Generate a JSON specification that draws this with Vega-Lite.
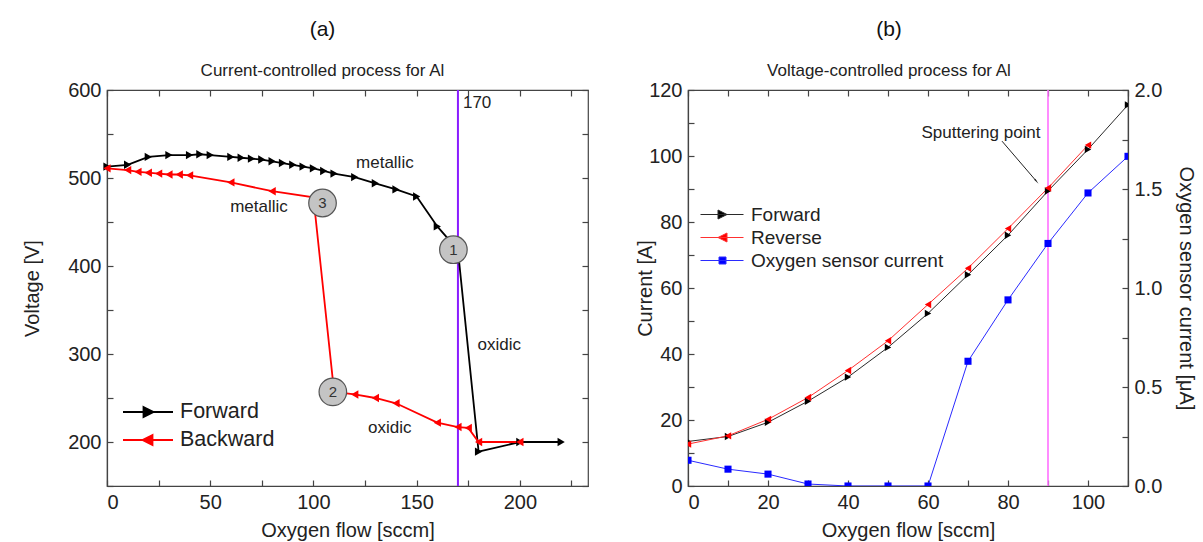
{
  "$schema": "https://vega.github.io/schema/vega-lite/v6.json",
  "background": "white",
  "padding": {"left": 22, "top": 18, "right": 0, "bottom": 0},
  "datasets": {
    "a": [
      {"series": "Forward", "flow": 0, "voltage": 513},
      {"series": "Forward", "flow": 10, "voltage": 515},
      {"series": "Forward", "flow": 20, "voltage": 524},
      {"series": "Forward", "flow": 30, "voltage": 526},
      {"series": "Forward", "flow": 40, "voltage": 526},
      {"series": "Forward", "flow": 45, "voltage": 527},
      {"series": "Forward", "flow": 50, "voltage": 526},
      {"series": "Forward", "flow": 60, "voltage": 524},
      {"series": "Forward", "flow": 65, "voltage": 523},
      {"series": "Forward", "flow": 70, "voltage": 522},
      {"series": "Forward", "flow": 75, "voltage": 521},
      {"series": "Forward", "flow": 80, "voltage": 519},
      {"series": "Forward", "flow": 85, "voltage": 517},
      {"series": "Forward", "flow": 90, "voltage": 515},
      {"series": "Forward", "flow": 95, "voltage": 513},
      {"series": "Forward", "flow": 100, "voltage": 511},
      {"series": "Forward", "flow": 105, "voltage": 508},
      {"series": "Forward", "flow": 110, "voltage": 505},
      {"series": "Forward", "flow": 120, "voltage": 501},
      {"series": "Forward", "flow": 130, "voltage": 494},
      {"series": "Forward", "flow": 140, "voltage": 487},
      {"series": "Forward", "flow": 150, "voltage": 479},
      {"series": "Forward", "flow": 160, "voltage": 445},
      {"series": "Forward", "flow": 170, "voltage": 418},
      {"series": "Forward", "flow": 180, "voltage": 189},
      {"series": "Forward", "flow": 200, "voltage": 200},
      {"series": "Forward", "flow": 220, "voltage": 200},
      {"series": "Backward", "flow": 200, "voltage": 200},
      {"series": "Backward", "flow": 180, "voltage": 200},
      {"series": "Backward", "flow": 175, "voltage": 216},
      {"series": "Backward", "flow": 170, "voltage": 217},
      {"series": "Backward", "flow": 160, "voltage": 222},
      {"series": "Backward", "flow": 140, "voltage": 244},
      {"series": "Backward", "flow": 130, "voltage": 250},
      {"series": "Backward", "flow": 120, "voltage": 254},
      {"series": "Backward", "flow": 110, "voltage": 257},
      {"series": "Backward", "flow": 100, "voltage": 478},
      {"series": "Backward", "flow": 80, "voltage": 485},
      {"series": "Backward", "flow": 60, "voltage": 495},
      {"series": "Backward", "flow": 40, "voltage": 503},
      {"series": "Backward", "flow": 35, "voltage": 504},
      {"series": "Backward", "flow": 30, "voltage": 504},
      {"series": "Backward", "flow": 25, "voltage": 505},
      {"series": "Backward", "flow": 20, "voltage": 506},
      {"series": "Backward", "flow": 15, "voltage": 507},
      {"series": "Backward", "flow": 10, "voltage": 509},
      {"series": "Backward", "flow": 0, "voltage": 511}
    ],
    "a_circ": [
      {"flow": 167.8, "voltage": 418.5, "num": "1"},
      {"flow": 109.4, "voltage": 257, "num": "2"},
      {"flow": 104.4, "voltage": 471.6, "num": "3"}
    ],
    "a_text": [
      {"flow": 134.6, "voltage": 517, "label": "metallic"},
      {"flow": 73.6, "voltage": 467, "label": "metallic"},
      {"flow": 190, "voltage": 310.6, "label": "oxidic"},
      {"flow": 137, "voltage": 216, "label": "oxidic"}
    ],
    "a_rule": [{"flow": 170, "voltage": 585, "label": "170"}],
    "b": [
      {"series": "Forward", "flow": 0, "current": 13.5},
      {"series": "Forward", "flow": 10, "current": 15},
      {"series": "Forward", "flow": 20, "current": 19.3},
      {"series": "Forward", "flow": 30, "current": 25.7},
      {"series": "Forward", "flow": 40, "current": 33},
      {"series": "Forward", "flow": 50, "current": 42},
      {"series": "Forward", "flow": 60, "current": 52.3},
      {"series": "Forward", "flow": 70, "current": 64},
      {"series": "Forward", "flow": 80, "current": 76},
      {"series": "Forward", "flow": 90, "current": 89.4},
      {"series": "Forward", "flow": 100, "current": 102},
      {"series": "Forward", "flow": 110, "current": 115.5},
      {"series": "Reverse", "flow": 0, "current": 12.7},
      {"series": "Reverse", "flow": 10, "current": 15.2},
      {"series": "Reverse", "flow": 20, "current": 20.2},
      {"series": "Reverse", "flow": 30, "current": 26.8},
      {"series": "Reverse", "flow": 40, "current": 35},
      {"series": "Reverse", "flow": 50, "current": 44},
      {"series": "Reverse", "flow": 60, "current": 55},
      {"series": "Reverse", "flow": 70, "current": 66},
      {"series": "Reverse", "flow": 80, "current": 78},
      {"series": "Reverse", "flow": 90, "current": 90.3},
      {"series": "Reverse", "flow": 100, "current": 103.3}
    ],
    "b_o2": [
      {"series": "Oxygen sensor current", "flow": 0, "sensor": 0.13},
      {"series": "Oxygen sensor current", "flow": 10, "sensor": 0.085},
      {"series": "Oxygen sensor current", "flow": 20, "sensor": 0.06},
      {"series": "Oxygen sensor current", "flow": 30, "sensor": 0.01},
      {"series": "Oxygen sensor current", "flow": 40, "sensor": 0},
      {"series": "Oxygen sensor current", "flow": 50, "sensor": 0},
      {"series": "Oxygen sensor current", "flow": 60, "sensor": 0},
      {"series": "Oxygen sensor current", "flow": 70, "sensor": 0.63},
      {"series": "Oxygen sensor current", "flow": 80, "sensor": 0.94},
      {"series": "Oxygen sensor current", "flow": 90, "sensor": 1.225},
      {"series": "Oxygen sensor current", "flow": 100, "sensor": 1.48},
      {"series": "Oxygen sensor current", "flow": 110, "sensor": 1.665}
    ],
    "b_rule": [{"flow": 90}],
    "b_arrow": [{"x1": 78.5, "y1": 104.5, "x2": 87, "y2": 92.5}],
    "b_text": [{"flow": 73.25, "current": 107, "label": "Sputtering point"}]
  },
  "hconcat": [
    {
      "title": {"text": "(a)", "subtitle": "Current-controlled process for Al", "dx": -25},
      "width": 481,
      "height": 396,
      "layer": [
        {
          "data": {"name": "a_rule"},
          "mark": {"type": "rule", "color": "#8a1cff", "strokeWidth": 2},
          "encoding": {
            "x": {"field": "flow", "type": "quantitative", "scale": {"domain": [0, 233], "nice": false},
                  "axis": {"orient": "top", "title": null, "labels": false, "domain": false, "values": [0,25,50,75,100,125,150,175,200,225]}}
          }
        },
        {
          "data": {"name": "a_rule"},
          "mark": {"type": "text", "align": "left", "dx": 5, "baseline": "middle", "fontSize": 17, "color": "#222"},
          "encoding": {
            "x": {"field": "flow", "type": "quantitative", "scale": {"domain": [0, 233], "nice": false}, "axis": null},
            "y": {"field": "voltage", "type": "quantitative", "scale": {"domain": [150, 600], "nice": false, "zero": false},
                  "axis": {"orient": "right", "title": null, "labels": false, "domain": false, "values": [150,200,250,300,350,400,450,500,550,600]}},
            "text": {"field": "label"}
          }
        },
        {
          "data": {"name": "a"},
          "mark": {"type": "line", "strokeWidth": 1.8},
          "encoding": {
            "x": {"field": "flow", "type": "quantitative", "scale": {"domain": [0, 233], "nice": false},
                  "axis": {"title": "Oxygen flow [sccm]", "values": [0,25,50,75,100,125,150,175,200,225], "labelExpr": "datum.value % 50 === 0 ? datum.label : ''"}},
            "y": {"field": "voltage", "type": "quantitative", "scale": {"domain": [150, 600], "nice": false, "zero": false},
                  "axis": {"title": "Voltage [V]", "titlePadding": 25, "values": [150,200,250,300,350,400,450,500,550,600], "labelExpr": "datum.value % 100 === 0 ? datum.label : ''"}},
            "color": {"field": "series", "type": "nominal", "scale": {"domain": ["Forward", "Backward"], "range": ["#000000", "#ff0000"]},
                      "legend": {"title": null, "orient": "none", "legendX": 15, "legendY": 311, "symbolSize": 400, "labelFontSize": 21.5, "labelOffset": 36, "rowPadding": 6, "padding": 0, "symbolStrokeWidth": 1.8, "labelColor": "#222", "labelLimit": 300,
                                 "encode": {"symbols": {"update": {
                                   "shape": {"signal": "datum.value === 'Forward' ? 'M-1,0H4M1.05,-0.5L2.05,0L1.05,0.5Z' : 'M-1,0H4M1.95,-0.5L0.95,0L1.95,0.5Z'"},
                                   "fill": {"signal": "datum.value === 'Forward' ? '#000000' : '#ff0000'"},
                                   "stroke": {"signal": "datum.value === 'Forward' ? '#000000' : '#ff0000'"},
                                   "opacity": {"value": 1}}}}}},
            "order": {"field": "flow", "type": "quantitative"}
          }
        },
        {
          "data": {"name": "a"},
          "transform": [{"filter": "datum.series === 'Forward'"}],
          "mark": {"type": "point", "shape": "triangle-right", "filled": true, "size": 70, "opacity": 1, "color": "#000000"},
          "encoding": {
            "x": {"field": "flow", "type": "quantitative", "scale": {"domain": [0, 233], "nice": false}, "axis": null},
            "y": {"field": "voltage", "type": "quantitative", "scale": {"domain": [150, 600], "nice": false, "zero": false}, "axis": null}
          }
        },
        {
          "data": {"name": "a"},
          "transform": [{"filter": "datum.series === 'Backward'"}],
          "mark": {"type": "point", "shape": "triangle-left", "filled": true, "size": 70, "opacity": 1, "color": "#ff0000"},
          "encoding": {
            "x": {"field": "flow", "type": "quantitative", "scale": {"domain": [0, 233], "nice": false}, "axis": null},
            "y": {"field": "voltage", "type": "quantitative", "scale": {"domain": [150, 600], "nice": false, "zero": false}, "axis": null}
          }
        },
        {
          "data": {"name": "a_circ"},
          "mark": {"type": "point", "shape": "circle", "filled": true, "size": 760, "fill": "#c4c4c4", "stroke": "#555555", "strokeWidth": 1.2, "opacity": 1},
          "encoding": {
            "x": {"field": "flow", "type": "quantitative", "scale": {"domain": [0, 233], "nice": false}, "axis": null},
            "y": {"field": "voltage", "type": "quantitative", "scale": {"domain": [150, 600], "nice": false, "zero": false}, "axis": null}
          }
        },
        {
          "data": {"name": "a_circ"},
          "mark": {"type": "text", "fontSize": 15, "color": "#333", "baseline": "middle", "align": "center"},
          "encoding": {
            "x": {"field": "flow", "type": "quantitative", "scale": {"domain": [0, 233], "nice": false}, "axis": null},
            "y": {"field": "voltage", "type": "quantitative", "scale": {"domain": [150, 600], "nice": false, "zero": false}, "axis": null},
            "text": {"field": "num"}
          }
        },
        {
          "data": {"name": "a_text"},
          "mark": {"type": "text", "fontSize": 17, "color": "#222", "baseline": "middle", "align": "center"},
          "encoding": {
            "x": {"field": "flow", "type": "quantitative", "scale": {"domain": [0, 233], "nice": false}, "axis": null},
            "y": {"field": "voltage", "type": "quantitative", "scale": {"domain": [150, 600], "nice": false, "zero": false}, "axis": null},
            "text": {"field": "label"}
          }
        }
      ],
      "resolve": {"axis": {"x": "independent", "y": "independent"}}
    },
    {
      "title": {"text": "(b)", "subtitle": "Voltage-controlled process for Al", "dx": -19},
      "width": 440,
      "height": 396,
      "layer": [
        {
          "data": {"name": "b_rule"},
          "mark": {"type": "rule", "color": "#ff70ff", "strokeWidth": 1.6},
          "encoding": {
            "x": {"field": "flow", "type": "quantitative", "scale": {"domain": [0, 110], "nice": false},
                  "axis": {"orient": "top", "title": null, "labels": false, "domain": false, "values": [0,10,20,30,40,50,60,70,80,90,100,110]}}
          }
        },
        {
          "data": {"name": "b"},
          "mark": {"type": "line", "strokeWidth": 1},
          "encoding": {
            "x": {"field": "flow", "type": "quantitative", "scale": {"domain": [0, 110], "nice": false},
                  "axis": {"title": "Oxygen flow [sccm]", "values": [0,10,20,30,40,50,60,70,80,90,100,110], "labelExpr": "datum.value % 20 === 0 ? datum.label : ''"}},
            "y": {"field": "current", "type": "quantitative", "scale": {"domain": [0, 120], "nice": false},
                  "axis": {"title": "Current [A]", "titlePadding": -7, "values": [0,10,20,30,40,50,60,70,80,90,100,110,120], "labelExpr": "datum.value % 20 === 0 ? datum.label : ''"}},
            "color": {"field": "series", "type": "nominal", "scale": {"domain": ["Forward", "Reverse", "Oxygen sensor current"], "range": ["#2a2a2a", "#ff3030", "#2a2aff"]},
                      "legend": {"title": null, "orient": "none", "legendX": 12, "legendY": 114, "symbolSize": 400, "labelFontSize": 19, "labelOffset": 30, "rowPadding": 2, "padding": 0, "symbolStrokeWidth": 1, "labelColor": "#222", "labelLimit": 300,
                                 "encode": {"symbols": {"update": {
                                   "shape": {"signal": "datum.value === 'Forward' ? 'M-1,0H3.3M0.75,-0.45L1.65,0L0.75,0.45Z' : (datum.value === 'Reverse' ? 'M-1,0H3.3M1.65,-0.45L0.75,0L1.65,0.45Z' : 'M-1,0H3.3M0.85,-0.35H1.55V0.35H0.85Z')"},
                                   "fill": {"signal": "datum.value === 'Forward' ? '#000000' : (datum.value === 'Reverse' ? '#ff0000' : '#0000ff')"},
                                   "stroke": {"signal": "datum.value === 'Forward' ? '#333333' : (datum.value === 'Reverse' ? '#ff3333' : '#3333ff')"},
                                   "opacity": {"value": 1}}}}}}
          }
        },
        {
          "data": {"name": "b"},
          "transform": [{"filter": "datum.series === 'Forward'"}],
          "mark": {"type": "point", "shape": "triangle-right", "filled": true, "size": 55, "opacity": 1, "clip": true, "color": "#000000"},
          "encoding": {
            "x": {"field": "flow", "type": "quantitative", "scale": {"domain": [0, 110], "nice": false}, "axis": null},
            "y": {"field": "current", "type": "quantitative", "scale": {"domain": [0, 120], "nice": false}, "axis": null}
          }
        },
        {
          "data": {"name": "b"},
          "transform": [{"filter": "datum.series === 'Reverse'"}],
          "mark": {"type": "point", "shape": "triangle-left", "filled": true, "size": 55, "opacity": 1, "clip": true, "color": "#ff0000"},
          "encoding": {
            "x": {"field": "flow", "type": "quantitative", "scale": {"domain": [0, 110], "nice": false}, "axis": null},
            "y": {"field": "current", "type": "quantitative", "scale": {"domain": [0, 120], "nice": false}, "axis": null}
          }
        },
        {
          "data": {"name": "b_arrow"},
          "mark": {"type": "rule", "color": "#222", "strokeWidth": 1},
          "encoding": {
            "x": {"field": "x1", "type": "quantitative", "scale": {"domain": [0, 110], "nice": false}, "axis": null},
            "y": {"field": "y1", "type": "quantitative", "scale": {"domain": [0, 120], "nice": false}, "axis": null},
            "x2": {"field": "x2"},
            "y2": {"field": "y2"}
          }
        },
        {
          "data": {"name": "b_arrow"},
          "mark": {"type": "point", "shape": "wedge", "filled": true, "size": 45, "angle": 139, "color": "#222", "opacity": 1},
          "encoding": {
            "x": {"field": "x2", "type": "quantitative", "scale": {"domain": [0, 110], "nice": false}, "axis": null},
            "y": {"field": "y2", "type": "quantitative", "scale": {"domain": [0, 120], "nice": false}, "axis": null}
          }
        },
        {
          "data": {"name": "b_text"},
          "mark": {"type": "text", "fontSize": 17, "color": "#222", "baseline": "middle", "align": "center"},
          "encoding": {
            "x": {"field": "flow", "type": "quantitative", "scale": {"domain": [0, 110], "nice": false}, "axis": null},
            "y": {"field": "current", "type": "quantitative", "scale": {"domain": [0, 120], "nice": false}, "axis": null},
            "text": {"field": "label"}
          }
        },
        {
          "data": {"name": "b_o2"},
          "mark": {"type": "line", "strokeWidth": 1, "clip": true, "color": "#2a2aff"},
          "encoding": {
            "x": {"field": "flow", "type": "quantitative", "scale": {"domain": [0, 110], "nice": false}, "axis": null},
            "y": {"field": "sensor", "type": "quantitative", "scale": {"domain": [0, 2], "nice": false},
                  "axis": {"orient": "right", "title": "Oxygen sensor current [μA]", "titlePadding": 14, "values": [0,0.25,0.5,0.75,1,1.25,1.5,1.75,2], "format": ".1f", "labelExpr": "datum.value % 0.5 === 0 ? datum.label : ''"}}
          }
        },
        {
          "data": {"name": "b_o2"},
          "mark": {"type": "point", "shape": "square", "filled": true, "size": 50, "opacity": 1, "clip": true, "color": "#0000ff"},
          "encoding": {
            "x": {"field": "flow", "type": "quantitative", "scale": {"domain": [0, 110], "nice": false}, "axis": null},
            "y": {"field": "sensor", "type": "quantitative", "scale": {"domain": [0, 2], "nice": false}, "axis": null}
          }
        }
      ],
      "resolve": {"scale": {"y": "independent"}, "axis": {"x": "independent"}}
    }
  ],
  "spacing": 45,
  "resolve": {"scale": {"color": "independent"}, "legend": {"color": "independent"}},
  "config": {
    "font": "Liberation Sans",
    "view": {"stroke": "#444444", "strokeWidth": 1.2},
    "axis": {
      "grid": false,
      "domainColor": "#444444",
      "domainWidth": 1.2,
      "tickColor": "#444444",
      "tickWidth": 1.2,
      "tickSize": -6,
      "labelPadding": 12,
      "labelFont": "Liberation Sans",
      "labelFontSize": 20,
      "labelColor": "#222222",
      "titleFont": "Liberation Sans",
      "titleFontSize": 20,
      "titleFontWeight": "normal",
      "titleColor": "#222222",
      "titlePadding": 8
    },
    "legend": {"labelFont": "Liberation Sans"},
    "title": {
      "font": "Liberation Sans",
      "fontSize": 21,
      "fontWeight": "normal",
      "color": "#111111",
      "subtitleFont": "Liberation Sans",
      "subtitleFontSize": 17,
      "subtitleColor": "#222222",
      "subtitlePadding": 23,
      "offset": 1,
      "anchor": "middle"
    },
    "text": {"font": "Liberation Sans"}
  }
}
